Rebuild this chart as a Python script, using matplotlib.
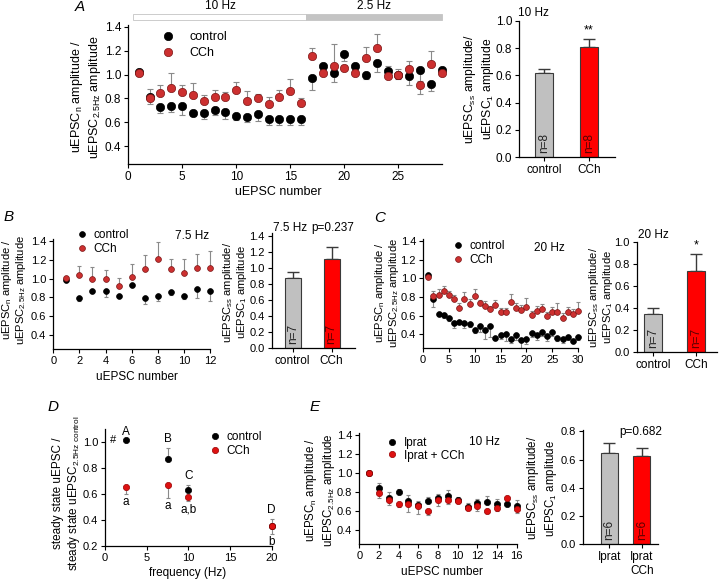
import numpy as np
import matplotlib
matplotlib.use('Agg')
import matplotlib.pyplot as plt
import matplotlib.patches as mpatches
import matplotlib.transforms as mtransforms

plt.rcParams['font.family'] = ['Liberation Sans', 'DejaVu Sans']
plt.rcParams['mathtext.default'] = 'regular'

W, H = 720, 581

# ---- panel A: 10 Hz then 2.5 Hz train ----
a_num = np.arange(1, 30)
a_ctrl = [1.02, 0.81, 0.73, 0.74, 0.74, 0.68, 0.68, 0.705, 0.69, 0.65, 0.645, 0.67, 0.63, 0.625, 0.625,
          0.63, 0.975, 1.07, 1.01, 1.175, 1.07, 1.0, 1.10, 1.03, 1.0, 0.99, 1.04, 0.925, 1.035]
a_ctrl_err = [0.0, 0.06, 0.05, 0.05, 0.08, 0.03, 0.05, 0.04, 0.06, 0.03, 0.04, 0.06, 0.05, 0.05, 0.05,
              0.05, 0.10, 0.03, 0.07, 0.06, 0.03, 0.04, 0.08, 0.03, 0.04, 0.08, 0.20, 0.06, 0.03]
a_cch = [1.01, 0.80, 0.845, 0.89, 0.855, 0.83, 0.775, 0.81, 0.81, 0.87, 0.775, 0.80, 0.755, 0.81, 0.865,
         0.76, 1.16, 1.01, 1.07, 1.055, 1.01, 1.14, 1.225, 0.99, 1.0, 1.045, 0.915, 1.09, 1.01]
a_cch_err = [0.0, 0.08, 0.07, 0.125, 0.06, 0.10, 0.055, 0.065, 0.045, 0.07, 0.085, 0.04, 0.055, 0.06, 0.10,
             0.045, 0.06, 0.03, 0.19, 0.03, 0.03, 0.09, 0.115, 0.08, 0.05, 0.07, 0.03, 0.11, 0.03]
a_stim_labels = ['10 Hz', '2.5 Hz']
a_stim_edges = [0.5, 16.5, 29]

# ---- panel B: 7.5 Hz ----
b_num = np.arange(1, 13)
b_ctrl = [0.99, 0.795, 0.87, 0.87, 0.81, 0.935, 0.79, 0.815, 0.86, 0.815, 0.885, 0.865]
b_ctrl_err = [0.0, 0.035, 0.02, 0.065, 0.01, 0.02, 0.065, 0.05, 0.03, 0.03, 0.09, 0.1]
b_cch = [1.01, 1.04, 1.0, 1.0, 0.92, 1.015, 1.1, 1.215, 1.1, 1.06, 1.115, 1.11]
b_cch_err = [0.0, 0.09, 0.125, 0.09, 0.09, 0.145, 0.15, 0.175, 0.115, 0.15, 0.15, 0.19]

# ---- panel C: 20 Hz ----
c_num = np.arange(1, 31)
c_ctrl = [1.04, 0.775, 0.62, 0.605, 0.578, 0.523, 0.537, 0.517, 0.508, 0.45, 0.487, 0.446, 0.489, 0.364, 0.397,
          0.405, 0.348, 0.397, 0.336, 0.35, 0.41, 0.393, 0.42, 0.386, 0.42, 0.357, 0.347, 0.375, 0.332, 0.375]
c_ctrl_err = [0.0, 0.08, 0.02, 0.03, 0.03, 0.05, 0.03, 0.05, 0.03, 0.04, 0.06, 0.1, 0.12, 0.03, 0.05,
              0.08, 0.04, 0.06, 0.08, 0.05, 0.04, 0.05, 0.04, 0.06, 0.04, 0.03, 0.04, 0.04, 0.03, 0.04]
c_cch = [1.015, 0.81, 0.825, 0.87, 0.82, 0.784, 0.685, 0.774, 0.724, 0.81, 0.731, 0.706, 0.667, 0.713, 0.642,
         0.642, 0.749, 0.678, 0.66, 0.695, 0.606, 0.649, 0.667, 0.60, 0.642, 0.635, 0.578, 0.642, 0.617, 0.653]
c_cch_err = [0.0, 0.05, 0.06, 0.05, 0.05, 0.04, 0.05, 0.08, 0.05, 0.075, 0.04, 0.05, 0.04, 0.06, 0.04,
             0.04, 0.08, 0.06, 0.06, 0.1, 0.04, 0.05, 0.06, 0.04, 0.05, 0.1, 0.05, 0.05, 0.05, 0.09]

# ---- panel D: steady state vs frequency ----
d_freq = [2.5, 7.5, 10, 20]
d_ctrl = [1.015, 0.874, 0.63, 0.355]
d_ctrl_err = [0.0, 0.08, 0.04, 0.055]
d_cch = [0.654, 0.667, 0.577, 0.355]
d_cch_err = [0.05, 0.1, 0.03, 0.06]
d_ctrl_marks = ['A', 'B', 'C', 'D']
d_cch_marks = ['a', 'a', 'a,b', 'b']

# ---- panel E: ipratropium, 10 Hz ----
e_num = np.arange(1, 17)
e_ctrl = [1.0, 0.84, 0.736, 0.80, 0.70, 0.665, 0.70, 0.736, 0.757, 0.71, 0.645, 0.683, 0.693, 0.676, 0.676, 0.65]
e_ctrl_err = [0.0, 0.05, 0.06, 0.03, 0.07, 0.04, 0.05, 0.04, 0.06, 0.04, 0.04, 0.04, 0.06, 0.05, 0.03, 0.06]
e_cch = [1.0, 0.79, 0.71, 0.676, 0.67, 0.655, 0.60, 0.71, 0.71, 0.70, 0.633, 0.65, 0.60, 0.633, 0.736, 0.615]
e_cch_err = [0.0, 0.05, 0.05, 0.04, 0.08, 0.09, 0.04, 0.06, 0.04, 0.02, 0.02, 0.05, 0.02, 0.03, 0.02, 0.04]

# ---- summary bars ----
bar_groups = ['control', 'CCh']
bar_a, bar_a_err, bar_a_n = [0.615, 0.81], [0.035, 0.055], [8, 8]
bar_b, bar_b_err, bar_b_n = [0.875, 1.105], [0.065, 0.15], [7, 7]
bar_c, bar_c_err, bar_c_n = [0.35, 0.74], [0.05, 0.155], [7, 7]
bar_e_groups = ['Iprat', 'Iprat\nCCh']
bar_e, bar_e_err, bar_e_n = [0.65, 0.626], [0.07, 0.055], [6, 6]

SCAT_YLAB = 'uEPSC$_n$ amplitude /\nuEPSC$_{2.5Hz}$ amplitude'
BAR_YLAB = 'uEPSC$_{ss}$ amplitude/\nuEPSC$_1$ amplitude'
ERR_GREY = '#8a8a8a'

fig = plt.figure(figsize=(W / 100, H / 100), dpi=100)


def px_axes(l, t, r, b):
    return fig.add_axes([l / W, 1 - b / H, (r - l) / W, (b - t) / H])


def ftext(x, y, s, **kw):
    kw.setdefault('ha', 'center')
    kw.setdefault('va', 'center')
    return fig.text(x / W, 1 - y / H, s, **kw)


def ylab(x, y, s, fs=8.5, ls=1.2):
    ftext(x, y, s, rotation=90, fontsize=fs, multialignment='center', linespacing=ls)


def style(ax, fs=8):
    for side in ['top', 'right']:
        ax.spines[side].set_visible(False)
    for side in ['left', 'bottom']:
        ax.spines[side].set_linewidth(0.9)
    ax.tick_params(direction='out', length=3, width=0.8, labelsize=fs, pad=2)


def put_legend(ax, x_px, y_px, fs, spacing, labels=('control', 'CCh'), textpad=0.5):
    bb = ax.get_position()
    ax_x = (x_px / W - bb.x0) / bb.width
    ax_y = ((1 - y_px / H) - bb.y0) / bb.height
    hs, ls = ax.get_legend_handles_labels()
    ax.legend(hs, labels, loc='upper left', bbox_to_anchor=(ax_x, ax_y), frameon=False,
              borderpad=0, borderaxespad=0, handlelength=1.0, handletextpad=textpad,
              labelspacing=spacing, fontsize=fs)


def dots(ax, x, ctrl, ctrl_err, cch, cch_err, ms, red, red_edge, cap=1.5,
         ctrl_up=False, labels=('control', 'CCh')):
    zero = np.zeros(len(x))
    c_err = [zero, ctrl_err] if ctrl_up else [ctrl_err, zero]
    r_err = [cch_err, zero] if ctrl_up else [zero, cch_err]
    ax.errorbar(x, ctrl, yerr=c_err, fmt='none', ecolor=ERR_GREY,
                elinewidth=0.8, capsize=cap, capthick=0.8, zorder=1, clip_on=False)
    ax.errorbar(x, cch, yerr=r_err, fmt='none', ecolor=ERR_GREY,
                elinewidth=0.8, capsize=cap, capthick=0.8, zorder=1, clip_on=False)
    ax.plot(x, ctrl, 'o', color='black', ms=ms, mew=0.5, zorder=3, clip_on=False, label=labels[0])
    ax.plot(x, cch, 'o', mfc=red, mec=red_edge, ms=ms, mew=0.5, zorder=4, clip_on=False, label=labels[1])


def bars(ax, groups, vals, errs, ns, width, ylim, yticks, fs=8):
    xs = np.arange(len(vals))
    ax.bar(xs, vals, width=width, color=['#c0c0c0', '#ff0000'], edgecolor='#3a3a3a', linewidth=0.8, zorder=2)
    ax.errorbar(xs, vals, yerr=[np.zeros(len(xs)), errs], fmt='none', ecolor='#3a3a3a',
                elinewidth=1.0, capsize=4, capthick=1.0, zorder=1)
    for x, n, c in zip(xs, ns, ['#222222', '#5a0000']):
        ax.text(x, ylim[1] * 0.035, 'n=%d' % n, rotation=90, ha='center', va='bottom',
                color=c, fontsize=8.5, zorder=3)
    ax.set_xticks(xs, groups)
    ax.set_ylim(*ylim)
    ax.set_yticks(yticks)
    ax.set_yticklabels(['%.1f' % t for t in yticks])
    style(ax, fs)
    ax.tick_params(axis='x', labelsize=8.5)


scat_ticks = np.round(np.arange(0.4, 1.41, 0.2), 1)

# ================= A =================
axA = px_axes(128, 24.6, 441.7, 164)
dots(axA, a_num, a_ctrl, a_ctrl_err, a_cch, a_cch_err, 6.0, '#cc3030', '#7a1515', cap=2)
axA.set_xlim(0, 29)
axA.set_ylim(0.25, 1.42)
axA.set_xticks(range(0, 30, 5))
axA.set_yticks(scat_ticks)
axA.set_yticklabels(['%.1f' % t for t in scat_ticks])
style(axA, 8.5)
trA = mtransforms.blended_transform_factory(axA.transData, axA.transAxes)
for lab, x0, x1, fc in zip(a_stim_labels, a_stim_edges[:-1], a_stim_edges[1:], ['white', '#c4c4c4']):
    axA.add_patch(mpatches.Rectangle((x0, 1.033), x1 - x0, 0.043, transform=trA, facecolor=fc,
                                     edgecolor='#c4c4c4', linewidth=0.6, clip_on=False))
    axA.text((x0 + x1) / 2, 1.134, lab, transform=trA, ha='center', va='center', fontsize=8.5)
put_legend(axA, 162, 31, 9, 0.35, textpad=1.2)
ylab(86, 97, SCAT_YLAB, fs=9)
ftext(278, 192, 'uEPSC number', fontsize=9)
ftext(80, 7, 'A', fontsize=11, style='italic')

axAb = px_axes(519.3, 20.7, 615, 157.3)
bars(axAb, bar_groups, bar_a, bar_a_err, bar_a_n, 0.4, (0, 1.0), np.round(np.arange(0, 1.01, 0.2), 1), fs=8.5)
axAb.set_xlim(-0.556, 1.58)
axAb.annotate('**', (1, bar_a[1] + bar_a_err[1]), xytext=(0, 2), textcoords='offset points',
              ha='center', va='bottom', fontsize=9)
ftext(518, 13, '10 Hz', ha='left', fontsize=8.5)
ylab(479, 89, BAR_YLAB, fs=8.7, ls=1.1)

# ================= B =================
axB = px_axes(53.3, 239.3, 210, 349)
dots(axB, b_num, b_ctrl, b_ctrl_err, b_cch, b_cch_err, 4.2, '#cc3030', '#7a1515')
axB.set_xlim(0, 12)
axB.set_ylim(0.25, 1.42)
axB.set_xticks(range(0, 13, 2))
axB.set_yticks(scat_ticks)
axB.set_yticklabels(['%.1f' % t for t in scat_ticks])
style(axB)
put_legend(axB, 76, 229, 8.5, 0.2)
ftext(192, 236, '7.5 Hz', fontsize=8.5)
ylab(14, 290, SCAT_YLAB, fs=8, ls=1.0)
ftext(137, 377, 'uEPSC number', fontsize=8.5)
ftext(9, 217, 'B', fontsize=11, style='italic')

axBb = px_axes(271.7, 233.3, 355, 347.7)
bars(axBb, bar_groups, bar_b, bar_b_err, bar_b_n, 0.41, (0, 1.43), np.round(np.arange(0, 1.41, 0.2), 1))
axBb.set_xlim(-0.54, 1.6)
ftext(273, 228, '7.5 Hz', ha='left', fontsize=8.5)
ftext(333, 228, 'p=0.237', fontsize=8.5)
ylab(235, 292, BAR_YLAB, fs=8, ls=1.0)

# ================= C =================
axC = px_axes(423, 239.3, 578, 348.3)
dots(axC, c_num, c_ctrl, c_ctrl_err, c_cch, c_cch_err, 4.2, '#cc3030', '#7a1515', cap=1.2)
axC.set_xlim(0, 30)
axC.set_ylim(0.25, 1.42)
axC.set_xticks(range(0, 31, 5))
axC.set_yticks(scat_ticks)
axC.set_yticklabels(['%.1f' % t for t in scat_ticks])
style(axC)
put_legend(axC, 452, 240, 8.5, 0.15)
ftext(549, 248, '20 Hz', fontsize=8.5)
ylab(387, 293, SCAT_YLAB, fs=8, ls=1.0)
ftext(380, 218, 'C', fontsize=11, style='italic')

axCb = px_axes(636.7, 242.3, 717, 352.3)
bars(axCb, bar_groups, bar_c, bar_c_err, bar_c_n, 0.42, (0, 1.0), np.round(np.arange(0, 1.01, 0.2), 1))
axCb.set_xlim(-0.39, 1.5)
axCb.annotate('*', (1, bar_c[1] + bar_c_err[1]), xytext=(0, 2), textcoords='offset points',
              ha='center', va='bottom', fontsize=9)
ftext(638, 235, '20 Hz', ha='left', fontsize=8.5)
ylab(601, 297, BAR_YLAB, fs=8, ls=1.0)

# ================= D =================
axD = px_axes(105, 429.3, 271.7, 546)
dots(axD, d_freq, d_ctrl, d_ctrl_err, d_cch, d_cch_err, 4.5, '#dd1111', '#990000', ctrl_up=True)
axD.set_xlim(0, 20)
axD.set_ylim(0.2, 1.1)
axD.set_xticks(range(0, 21, 5))
axD.set_yticks([0.2, 0.4, 0.6, 0.8, 1.0])
axD.set_yticklabels(['0.2', '0.4', '0.6', '0.8', '1.0'])
style(axD)
for f, v, e, m in zip(d_freq, d_ctrl, d_ctrl_err, d_ctrl_marks):
    axD.annotate(m, (f, v + e), xytext=(0, 2), textcoords='offset points',
                 ha='center', va='bottom', fontsize=8.5, annotation_clip=False)
for f, v, e, m in zip(d_freq, d_cch, d_cch_err, d_cch_marks):
    axD.annotate(m, (f, v - e), xytext=(0, -1.5), textcoords='offset points',
                 ha='center', va='top', fontsize=8.5, annotation_clip=False)
axD.annotate('#', (d_freq[0], d_ctrl[0]), xytext=(-9, 0), textcoords='offset points',
             ha='center', va='center', fontsize=8)
put_legend(axD, 209, 431, 8.5, 0.2)
ylab(67, 493, 'steady state uEPSC /\nsteady state uEPSC$_{2.5Hz\\ control}$', fs=8.5, ls=1.25)
ftext(188, 573, 'frequency (Hz)', fontsize=8.5)
ftext(53, 407, 'D', fontsize=11, style='italic')

# ================= E =================
axE = px_axes(359.3, 433, 516.7, 544)
dots(axE, e_num, e_ctrl, e_ctrl_err, e_cch, e_cch_err, 4.5, '#dd1111', '#990000', ctrl_up=True,
     labels=('Iprat', 'Iprat + CCh'))
axE.set_xlim(0, 16)
axE.set_ylim(0.25, 1.42)
axE.set_xticks(range(0, 17, 2))
axE.set_yticks(scat_ticks)
axE.set_yticklabels(['%.1f' % t for t in scat_ticks])
style(axE)
put_legend(axE, 386, 437, 8.5, 0.05, labels=('Iprat', 'Iprat + CCh'))
ftext(484, 442, '10 Hz', fontsize=8.5)
ylab(320, 490, SCAT_YLAB, fs=8.3, ls=1.1)
ftext(442, 572, 'uEPSC number', fontsize=8.5)
ftext(315, 407, 'E', fontsize=11, style='italic')

axEb = px_axes(583.3, 430, 658, 544)
bars(axEb, bar_e_groups, bar_e, bar_e_err, bar_e_n, 0.52, (0, 0.81), [0.0, 0.2, 0.4, 0.6, 0.8])
axEb.set_xlim(-0.79, 1.5)
ftext(641, 432, 'p=0.682', fontsize=8.5)
ylab(542, 488, BAR_YLAB, fs=8.3, ls=1.1)

fig.savefig('out.png', dpi=100)
